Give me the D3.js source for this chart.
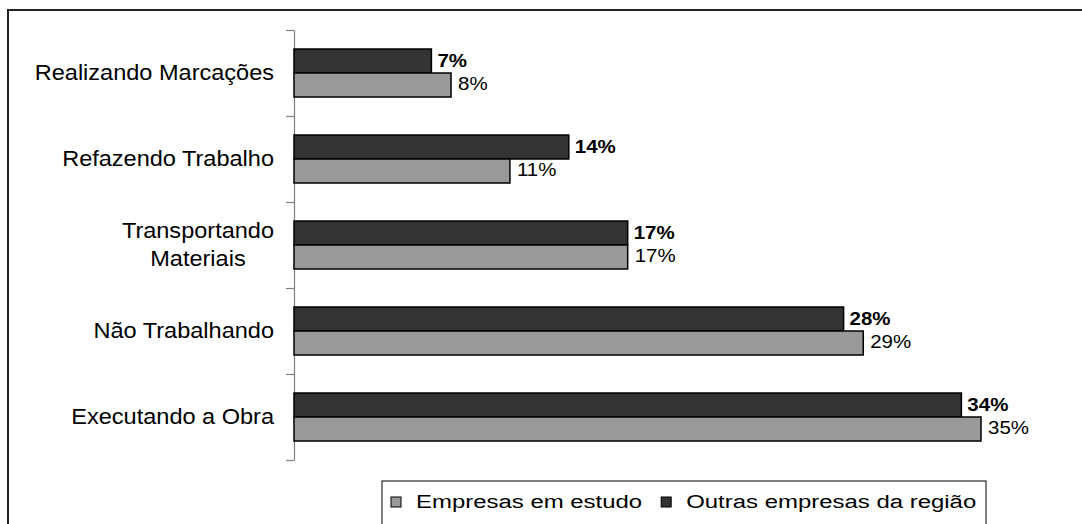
<!DOCTYPE html>
<html>
<head>
<meta charset="utf-8">
<script src="https://cdn.jsdelivr.net/npm/d3@7"></script>
<style>
  body { margin: 0; background: #fff; }
  svg { display: block; font-family: "Liberation Sans", Arial, sans-serif; }
</style>
</head>
<body>
<div id="chart"></div>
<script>
// Data
const categories = [
    ['Realizando Marcações'],
    ['Refazendo Trabalho'],
    ['Transportando', 'Materiais'],
    ['Não Trabalhando'],
    ['Executando a Obra']
];
const outrasEmpresas = [7, 14, 17, 28, 34];    // dark bars, bold labels
const empresasEstudo = [8, 11, 17, 29, 35];    // light bars
const seriesNames = ['Empresas em estudo', 'Outras empresas da região'];

const W = 1082, H = 524;

const svg = d3.select('#chart').append('svg')
    .attr('width', W)
    .attr('height', H);

// outer frame
svg.append('rect')
    .attr('x', 8).attr('y', 10)
    .attr('width', W + 20).attr('height', H + 20)
    .attr('fill', 'none')
    .attr('stroke', '#222')
    .attr('stroke-width', 2);

const plotTop = 30, plotBottom = 460, axisX = 294;

const y = d3.scaleBand()
    .domain(d3.range(categories.length))
    .range([plotTop, plotBottom]);

const ySeries = d3.scaleBand()
    .domain(['outras', 'estudo'])
    .range([19, 67]);

const x = d3.scaleLinear()
    .domain([0, 35])
    .range([axisX, 981]);

// helper for text that is a bit wider than the font (like the original)
function stretchedText(parent, tx, ty, str, size, sx, anchor, weight) {
    return parent.append('text')
        .attr('transform', `translate(${tx},${ty}) scale(${sx},1)`)
        .attr('text-anchor', anchor)
        .attr('font-size', size)
        .attr('font-weight', weight || 'normal')
        .attr('fill', '#000')
        .text(str);
}

// axis with ticks at the category edges
const yEdge = d3.scaleLinear().domain([0, categories.length]).range([plotTop, plotBottom]);
svg.append('g')
    .attr('transform', `translate(${axisX},0)`)
    .call(d3.axisLeft(yEdge).ticks(categories.length).tickFormat('').tickSize(8).tickSizeOuter(0))
    .call(g => g.selectAll('path, line').attr('stroke', '#808080').attr('stroke-width', 1.2));

const rows = categories.map((c, i) => ({
    i: i, label: c, outras: outrasEmpresas[i], estudo: empresasEstudo[i]
}));

const groups = svg.append('g').selectAll('g')
    .data(rows)
    .enter().append('g')
    .attr('transform', d => `translate(0,${y(d.i)})`);

// dark bars
groups.append('rect')
    .attr('x', x(0))
    .attr('y', ySeries('outras'))
    .attr('width', d => x(d.outras) - x(0))
    .attr('height', ySeries.bandwidth())
    .attr('fill', '#333333')
    .attr('stroke', '#000')
    .attr('stroke-width', 1.5);

// light bars
groups.append('rect')
    .attr('x', x(0))
    .attr('y', ySeries('estudo'))
    .attr('width', d => x(d.estudo) - x(0))
    .attr('height', ySeries.bandwidth())
    .attr('fill', '#999999')
    .attr('stroke', '#000')
    .attr('stroke-width', 1.5);

// value labels
groups.each(function(d) {
    const g = d3.select(this);
    stretchedText(g, x(d.outras) + 6, ySeries('outras') + 18, d.outras + '%', 17.5, 1.17, 'start', 'bold');
    stretchedText(g, x(d.estudo) + 7, ySeries('estudo') + 17, d.estudo + '%', 17.5, 1.17, 'start');
});

// category labels
const catSize = 22, catSx = 1.07;
groups.each(function(d) {
    const g = d3.select(this);
    const mid = y.bandwidth() / 2;
    if (d.label.length === 1) {
        stretchedText(g, 274, mid + 7, d.label[0], catSize, catSx, 'end');
    } else {
        // multi-line labels: centre the lines over the widest one
        const lh = 28;
        const tmp = d.label.map(s => stretchedText(g, 0, 0, s, catSize, catSx, 'middle'));
        const wMax = d3.max(tmp, t => t.node().getComputedTextLength()) * catSx;
        const cx = 274 - wMax / 2;
        tmp.forEach((t, k) => {
            const ty = mid + 7 + (k - (d.label.length - 1) / 2) * lh;
            t.attr('transform', `translate(${cx},${ty}) scale(${catSx},1)`);
        });
    }
});

// legend
const legend = svg.append('g');
legend.append('rect')
    .attr('x', 382).attr('y', 481)
    .attr('width', 604).attr('height', 60)
    .attr('fill', '#fff')
    .attr('stroke', '#000')
    .attr('stroke-width', 1);

const legendColors = ['#999999', '#333333'];
const legSize = 19, legSx = 1.26;
let lx = 391;
seriesNames.forEach((name, k) => {
    legend.append('rect')
        .attr('x', lx).attr('y', 497)
        .attr('width', 10).attr('height', 10)
        .attr('fill', legendColors[k])
        .attr('stroke', '#000')
        .attr('stroke-width', 1);
    const t = stretchedText(legend, lx + 25, 508, name, legSize, legSx, 'start');
    lx += 25 + t.node().getComputedTextLength() * legSx + 19;
});
</script>
</body>
</html>
